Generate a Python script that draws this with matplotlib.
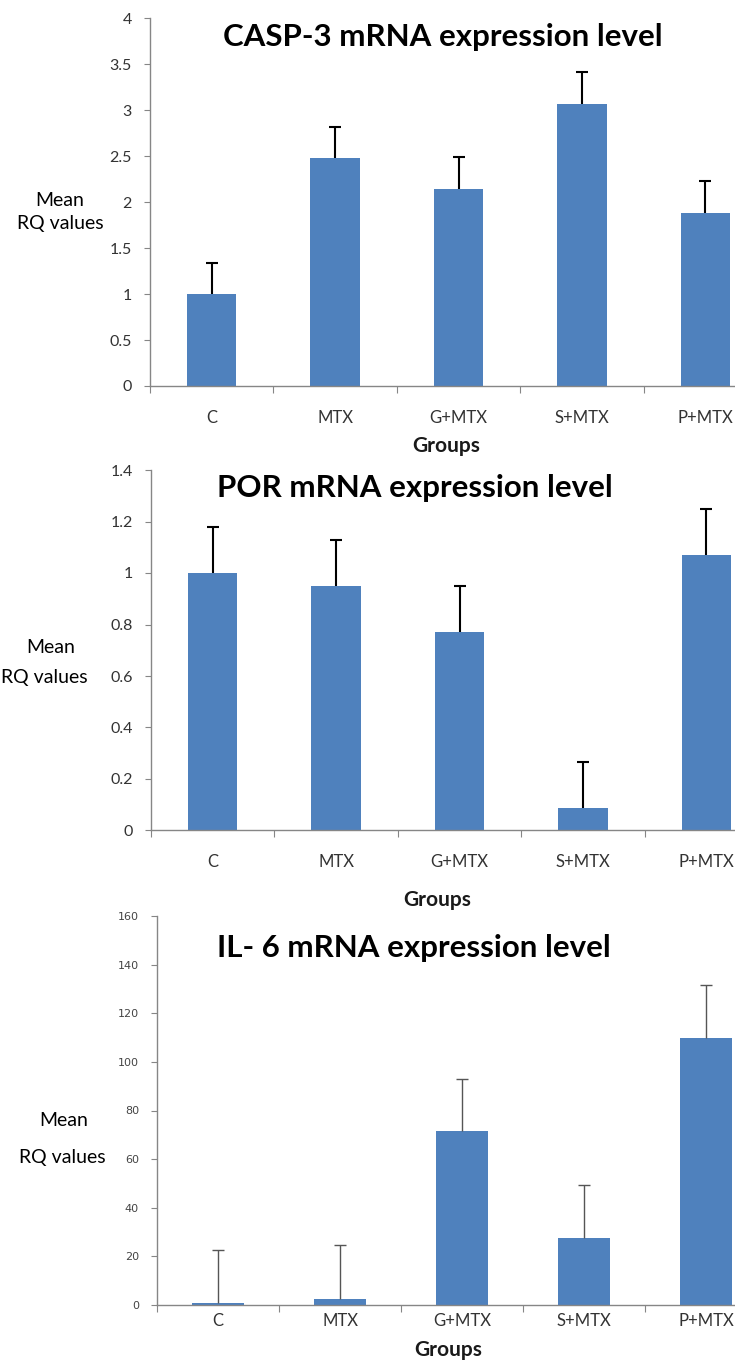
import matplotlib.pyplot as plt

groups = ["C", "MTX", "G+MTX", "S+MTX", "P+MTX"]

casp3_mean = [1.0, 2.48, 2.14, 3.06, 1.88]
casp3_err = [0.34, 0.34, 0.35, 0.35, 0.35]

por_mean = [1.0, 0.95, 0.77, 0.087, 1.07]
por_err = [0.18, 0.18, 0.18, 0.18, 0.18]

il6_mean = [1.0, 2.5, 71.5, 27.5, 110.0]
il6_err = [21.5, 22.0, 21.5, 21.8, 21.5]

W, H = 735, 1369
bar_color = "#4F81BD"
spine_color = "#868686"
plt.rcParams['font.family'] = ['Lato', 'DejaVu Sans']

fig = plt.figure(figsize=(W / 100, H / 100), dpi=100)
fig.patch.set_facecolor("white")


def rect(left, top, right, bottom):
    # pixel box -> figure fraction
    return [left / W, 1 - bottom / H, (right - left) / W, (bottom - top) / H]


def ftext(x, y, s, ha="center", **kw):
    fig.text(x / W, 1 - y / H, s, ha=ha, va="center", **kw)


def panel(box, means, errs, ymax, ystep, width, ecolor, elw, yfont, ylabcolor, ypad, xpad, fmt):
    ax = fig.add_axes(box)
    x = range(len(groups))
    ax.bar(x, means, width=width, color=bar_color, zorder=2)
    eb = ax.errorbar(x, means, yerr=[[0] * len(errs), errs], fmt="none",
                     ecolor=ecolor, elinewidth=elw, capsize=4, capthick=elw, zorder=3)
    # only the upper cap, like Excel "plus" error bars
    eb[1][0].set_visible(False)
    ax.set_xlim(-0.5, len(groups) - 0.5)
    ax.set_ylim(0, ymax)
    ticks = [i * ystep for i in range(int(round(ymax / ystep)) + 1)]
    ax.set_yticks(ticks)
    ax.set_yticklabels([fmt(t) for t in ticks], fontdict=yfont, color=ylabcolor)
    ax.set_xticks([i - 0.5 for i in range(len(groups) + 1)], minor=False)
    ax.set_xticklabels([])
    ax.set_xticks(list(x), minor=True)
    ax.set_xticklabels(groups, minor=True, fontsize=12, color="#333333")
    ax.tick_params(axis="x", which="major", length=5, color=spine_color, direction="out")
    ax.tick_params(axis="x", which="minor", length=0, pad=xpad)
    ax.tick_params(axis="y", length=4, color=spine_color, pad=ypad)
    for s in ["top", "right"]:
        ax.spines[s].set_visible(False)
    for s in ["left", "bottom"]:
        ax.spines[s].set_color(spine_color)
        ax.spines[s].set_linewidth(1.0)
    ax.set_facecolor("none")
    return ax


def fmt_num(v):
    s = ("%.1f" % v).rstrip("0").rstrip(".")
    return s


panel(rect(150, 18, 767, 386), casp3_mean, casp3_err, 4, 0.5, 0.4,
      "black", 1.5, {"family": ["Lato"], "size": 11.5}, "#333333", 9, 17, fmt_num)
panel(rect(151, 470, 768, 830.5), por_mean, por_err, 1.4, 0.2, 0.4,
      "black", 1.5, {"family": ["Lato"], "size": 11.5}, "#333333", 9, 17, fmt_num)
panel(rect(157, 916, 767, 1305), il6_mean, il6_err, 160, 20, 0.42,
      "#555555", 1.0, {"family": ["DejaVu Sans"], "size": 8}, "#444444", 9, 6,
      lambda v: "%d" % v)

title_kw = dict(fontsize=22.5, fontweight="bold", color="black")
ftext(223, 37, "CASP-3 mRNA expression level", ha="left", **title_kw)
ftext(217, 488, "POR mRNA expression level", ha="left", **title_kw)
ftext(217, 948, "IL- 6 mRNA expression level", ha="left", **title_kw)

lab_kw = dict(fontsize=14, color="black")
ftext(60, 200, "Mean", **lab_kw)
ftext(60, 223, "RQ values", **lab_kw)
ftext(51, 648, "Mean", **lab_kw)
ftext(44, 677, "RQ values", **lab_kw)
ftext(64, 1120, "Mean", **lab_kw)
ftext(62, 1157, "RQ values", **lab_kw)

grp_kw = dict(fontsize=15, fontweight="bold", color="#1a1a1a")
ftext(446, 446, "Groups", **grp_kw)
ftext(437, 900, "Groups", **grp_kw)
ftext(448, 1350, "Groups", **grp_kw)

fig.savefig("out.png", dpi=100, facecolor="white")
